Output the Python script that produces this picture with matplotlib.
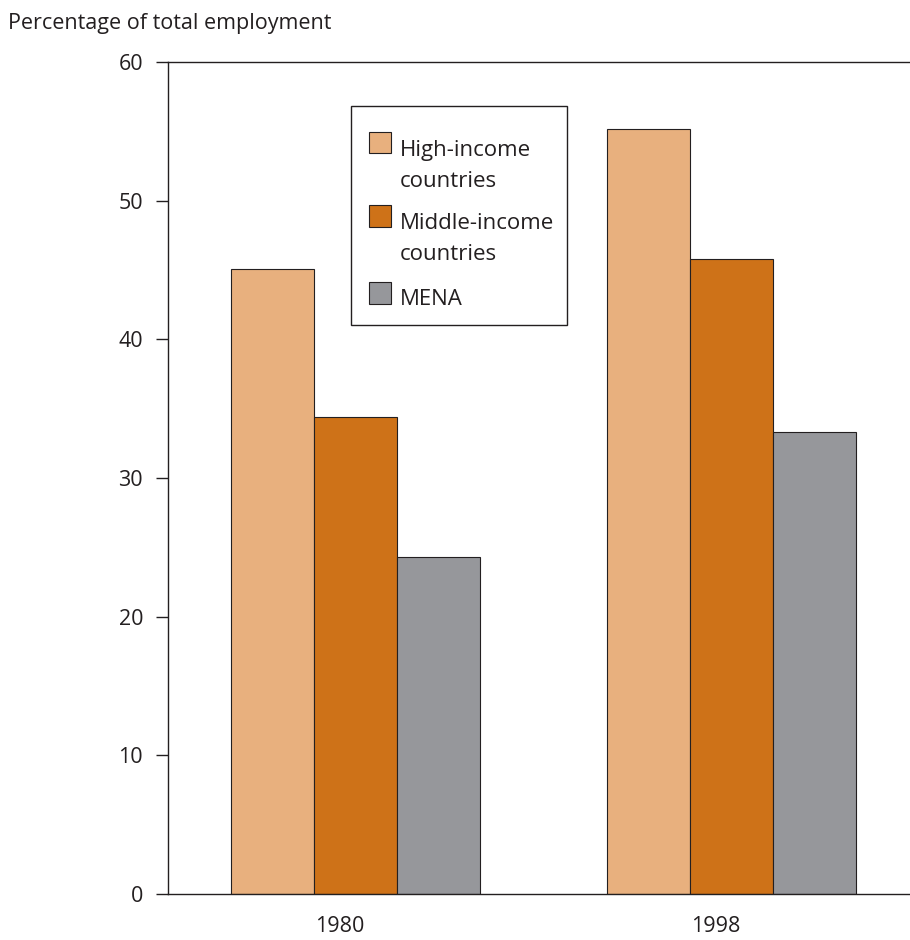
import matplotlib
matplotlib.use("Agg")
import matplotlib.pyplot as plt
from matplotlib.legend_handler import HandlerPatch
from matplotlib.patches import Rectangle
import numpy as np

plt.rcParams['font.family'] = ['Open Sans', 'DejaVu Sans']

years = ['1980', '1998']
high_income = [45.1, 55.2]
middle_income = [34.4, 45.8]
mena = [24.3, 33.3]
series_names = ['High-income\ncountries', 'Middle-income\ncountries', 'MENA']
colors = ['#E8B07E', '#CE7218', '#96979B']

ink = '#231F20'


class TopPatch(HandlerPatch):
    # legend swatch lined up with the first text line
    def __init__(self, dy):
        super().__init__(update_func=lambda p, h: p.update_from(h.patches[0]))
        self.dy = dy

    def _create_patch(self, legend, orig_handle, xdescent, ydescent, width, height, fontsize):
        return Rectangle((-xdescent, -ydescent + self.dy), width, height)


fig = plt.figure(figsize=(9.1, 9.4), dpi=100)
ax = fig.add_axes([168/910, 46/940, 742/910, 832/940])

x = np.arange(len(years))
w = 0.2207
shift = 0.0415
bars = []
for i, (vals, name, c) in enumerate(zip([high_income, middle_income, mena], series_names, colors)):
    b = ax.bar(x + shift + (i - 1)*w, vals, width=w, color=c, edgecolor=ink,
               linewidth=0.8, label=name)
    bars.append(b)

ax.set_xlim(-0.4574, 1.516)
ax.set_ylim(0, 60)
ax.set_yticks(range(0, 61, 10))
ax.set_xticks(x)
ax.set_xticklabels(years)

for s in ['left', 'top', 'bottom']:
    ax.spines[s].set_color(ink)
    ax.spines[s].set_linewidth(1.0)
ax.spines['right'].set_visible(False)
ax.tick_params(axis='y', direction='out', length=8.6, width=1.0, color=ink,
               labelsize=15.5, labelcolor=ink, pad=9.4)
ax.tick_params(axis='x', length=0, labelsize=15.5, labelcolor=ink, pad=16)

# legend frame drawn on its own so the padding can differ top/side
ax.add_patch(Rectangle((0.2466, 0.6835), 0.2911, 0.2632, transform=ax.transAxes,
                       facecolor='white', edgecolor=ink, linewidth=1.0, zorder=4,
                       clip_on=False))

hmap = {b: TopPatch(17 if '\n' in n else 3) for b, n in zip(bars, series_names)}
leg = ax.legend(loc='upper left', bbox_to_anchor=((351-168)/742, (894.7-123)/832),
                borderaxespad=0, frameon=False, fontsize=16,
                handlelength=1.0, handleheight=1.1, handletextpad=0.4,
                borderpad=0.8, labelspacing=0.97, labelcolor=ink, handler_map=hmap)
leg.set_zorder(5)
for t in leg.get_texts():
    t.set_linespacing(1.6)

fig.text(8/910, 1 - 13/940, 'Percentage of total employment', fontsize=15.5,
         color=ink, ha='left', va='top')

fig.savefig('out.png', dpi=100)
